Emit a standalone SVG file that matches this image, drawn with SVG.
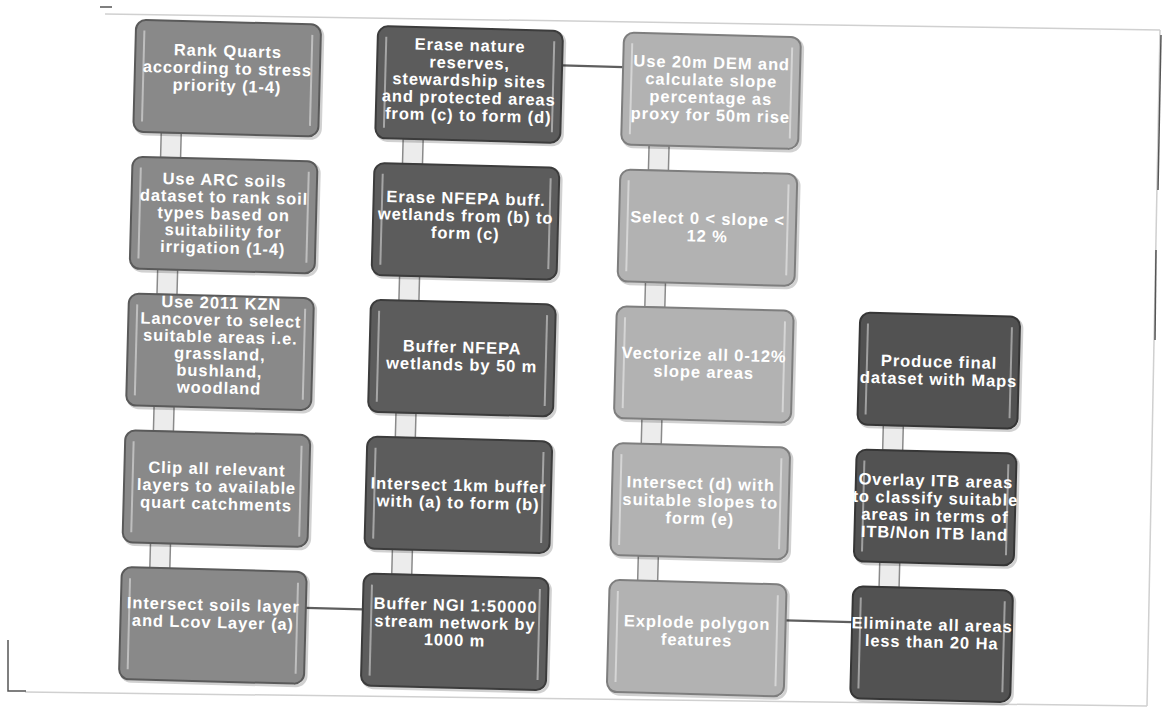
<svg xmlns="http://www.w3.org/2000/svg" width="1164" height="714" viewBox="0 0 1164 714">
<defs>
<style>
.bx{stroke-width:2}
.c1{fill:#898989;stroke:#5a5a5a}
.c2{fill:#5c5c5c;stroke:#3c3c3c}
.c3{fill:#b2b2b2;stroke:#7e7e7e}
.c4{fill:#525252;stroke:#363636}
.hl{stroke:#ffffff;stroke-opacity:0.45;stroke-width:2;fill:none}
.sh{fill:none;stroke:#000;stroke-opacity:0.18;stroke-width:3}
text{font-family:"Liberation Sans",Arial,sans-serif;font-weight:bold;font-size:16.5px;fill:#ffffff;text-anchor:middle;letter-spacing:0.9px}
.vbar{fill:#ececec;stroke:#8a8a8a;stroke-width:1.5}
.hline{stroke:#5e5e5e;stroke-width:2.2;fill:none}
.frame{stroke:#d0d0d0;stroke-width:1.5;fill:none}
.mark{stroke:#555;stroke-width:1.5;fill:none}
</style>
</defs>
<rect width="1164" height="714" fill="#ffffff"/>
<g id="page-frame">
<line class="frame" x1="105" y1="14" x2="1160" y2="30"/>
<line class="frame" x1="1160" y1="30" x2="1147" y2="706"/>
<line class="frame" x1="25" y1="692" x2="1147" y2="706"/>
<line class="mark" x1="100" y1="7" x2="112" y2="7"/>
<polyline class="mark" points="8,640 8,691 26,691"/>
<line class="mark" x1="1161" y1="35" x2="1158" y2="190"/>
<line class="mark" x1="1156" y1="250" x2="1155" y2="340"/>
</g>
<g transform="rotate(1.5 580 357)">
<g id="connectors">
<rect class="vbar" x="155.5" y="143.5" width="20" height="25"/>
<rect class="vbar" x="155.5" y="280.4" width="20" height="25"/>
<rect class="vbar" x="155.5" y="417.2" width="20" height="25"/>
<rect class="vbar" x="155.5" y="554.1" width="20" height="25"/>
<rect class="vbar" x="397.5" y="143.5" width="20" height="25"/>
<rect class="vbar" x="397.5" y="280.4" width="20" height="25"/>
<rect class="vbar" x="397.5" y="417.2" width="20" height="25"/>
<rect class="vbar" x="397.5" y="554.1" width="20" height="25"/>
<rect class="vbar" x="643.5" y="143.5" width="20" height="25"/>
<rect class="vbar" x="643.5" y="280.4" width="20" height="25"/>
<rect class="vbar" x="643.5" y="417.2" width="20" height="25"/>
<rect class="vbar" x="643.5" y="554.1" width="20" height="25"/>
<rect class="vbar" x="885" y="417.2" width="20" height="25"/>
<rect class="vbar" x="885" y="554.1" width="20" height="25"/>
<line class="hline" x1="312.5" y1="615" x2="369.5" y2="615"/>
<line class="hline" x1="554.5" y1="66" x2="615.5" y2="66"/>
<line class="hline" x1="792.5" y1="615" x2="859" y2="615"/>
</g>

<g id="n-c1r1">
<rect class="sh" x="129.5" y="33.5" width="185" height="112" rx="10"/>
<rect class="bx c1" x="127.5" y="31.5" width="185" height="112" rx="10"/>
<line class="hl" x1="136" y1="42" x2="136" y2="133"/><line class="hl" x1="304" y1="42" x2="304" y2="133"/>
<text x="220" y="66">Rank Quarts</text><text x="220" y="83.5">according to stress</text><text x="220" y="101">priority  (1-4)</text>
</g>
<g id="n-c1r2">
<rect class="sh" x="129.5" y="170.4" width="185" height="112" rx="10"/>
<rect class="bx c1" x="127.5" y="168.4" width="185" height="112" rx="10"/>
<line class="hl" x1="136" y1="179" x2="136" y2="270"/><line class="hl" x1="304" y1="179" x2="304" y2="270"/>
<text x="220" y="195">Use ARC soils</text><text x="220" y="212">dataset to rank soil</text><text x="220" y="229">types based on</text><text x="220" y="246">suitability  for</text><text x="220" y="263">irrigation  (1-4)</text>
</g>
<g id="n-c1r3">
<rect class="sh" x="129.5" y="307.2" width="185" height="112" rx="10"/>
<rect class="bx c1" x="127.5" y="305.2" width="185" height="112" rx="10"/>
<line class="hl" x1="136" y1="316" x2="136" y2="407"/><line class="hl" x1="304" y1="316" x2="304" y2="407"/>
<text x="220" y="318">Use 2011 KZN</text><text x="220" y="335">Lancover to select</text><text x="220" y="352">suitable  areas i.e.</text><text x="220" y="369">grassland,</text><text x="220" y="386">bushland,</text><text x="220" y="403">woodland</text>
</g>
<g id="n-c1r4">
<rect class="sh" x="129.5" y="444.1" width="185" height="112" rx="10"/>
<rect class="bx c1" x="127.5" y="442.1" width="185" height="112" rx="10"/>
<line class="hl" x1="136" y1="453" x2="136" y2="544"/><line class="hl" x1="304" y1="453" x2="304" y2="544"/>
<text x="220" y="484">Clip all relevant</text><text x="220" y="501.5">layers to available</text><text x="220" y="519">quart catchments</text>
</g>
<g id="n-c1r5">
<rect class="sh" x="129.5" y="581" width="185" height="112" rx="10"/>
<rect class="bx c1" x="127.5" y="579" width="185" height="112" rx="10"/>
<line class="hl" x1="136" y1="590" x2="136" y2="681"/><line class="hl" x1="304" y1="590" x2="304" y2="681"/>
<text x="220" y="620">Intersect soils layer</text><text x="220" y="637.5">and Lcov Layer (a)</text>
</g>

<g id="n-c2r1">
<rect class="sh" x="371.5" y="33.5" width="185" height="112" rx="10"/>
<rect class="bx c2" x="369.5" y="31.5" width="185" height="112" rx="10"/>
<line class="hl" x1="378" y1="42" x2="378" y2="133"/><line class="hl" x1="546" y1="42" x2="546" y2="133"/>
<text x="462" y="54">Erase nature</text><text x="462" y="71.5">reserves,</text><text x="462" y="89">stewardship sites</text><text x="462" y="106.5">and protected areas</text><text x="462" y="124">from (c) to form (d)</text>
</g>
<g id="n-c2r2">
<rect class="sh" x="371.5" y="170.4" width="185" height="112" rx="10"/>
<rect class="bx c2" x="369.5" y="168.4" width="185" height="112" rx="10"/>
<line class="hl" x1="378" y1="179" x2="378" y2="270"/><line class="hl" x1="546" y1="179" x2="546" y2="270"/>
<text x="462" y="207">Erase NFEPA buff.</text><text x="462" y="224.5">wetlands from (b) to</text><text x="462" y="242">form (c)</text>
</g>
<g id="n-c2r3">
<rect class="sh" x="371.5" y="307.2" width="185" height="112" rx="10"/>
<rect class="bx c2" x="369.5" y="305.2" width="185" height="112" rx="10"/>
<line class="hl" x1="378" y1="316" x2="378" y2="407"/><line class="hl" x1="546" y1="316" x2="546" y2="407"/>
<text x="462" y="356">Buffer NFEPA</text><text x="462" y="373.5">wetlands by 50 m</text>
</g>
<g id="n-c2r4">
<rect class="sh" x="371.5" y="444.1" width="185" height="112" rx="10"/>
<rect class="bx c2" x="369.5" y="442.1" width="185" height="112" rx="10"/>
<line class="hl" x1="378" y1="453" x2="378" y2="544"/><line class="hl" x1="546" y1="453" x2="546" y2="544"/>
<text x="462" y="494">Intersect 1km buffer</text><text x="462" y="511.5">with (a) to form (b)</text>
</g>
<g id="n-c2r5">
<rect class="sh" x="371.5" y="581" width="185" height="112" rx="10"/>
<rect class="bx c2" x="369.5" y="579" width="185" height="112" rx="10"/>
<line class="hl" x1="378" y1="590" x2="378" y2="681"/><line class="hl" x1="546" y1="590" x2="546" y2="681"/>
<text x="462" y="614">Buffer NGI 1:50000</text><text x="462" y="631.5">stream network by</text><text x="462" y="649">1000 m</text>
</g>

<g id="n-c3r1">
<rect class="sh" x="617.5" y="33.5" width="177" height="112" rx="10"/>
<rect class="bx c3" x="615.5" y="31.5" width="177" height="112" rx="10"/>
<line class="hl" x1="624" y1="42" x2="624" y2="133"/><line class="hl" x1="784" y1="42" x2="784" y2="133"/>
<text x="704" y="65">Use 20m DEM and</text><text x="704" y="82.5">calculate  slope</text><text x="704" y="100">percentage  as</text><text x="704" y="117.5">proxy  for 50m rise</text>
</g>
<g id="n-c3r2">
<rect class="sh" x="617.5" y="170.4" width="177" height="112" rx="10"/>
<rect class="bx c3" x="615.5" y="168.4" width="177" height="112" rx="10"/>
<line class="hl" x1="624" y1="179" x2="624" y2="270"/><line class="hl" x1="784" y1="179" x2="784" y2="270"/>
<text x="704" y="221">Select 0 &lt; slope &lt;</text><text x="704" y="238.5">12 %</text>
</g>
<g id="n-c3r3">
<rect class="sh" x="617.5" y="307.2" width="177" height="112" rx="10"/>
<rect class="bx c3" x="615.5" y="305.2" width="177" height="112" rx="10"/>
<line class="hl" x1="624" y1="316" x2="624" y2="407"/><line class="hl" x1="784" y1="316" x2="784" y2="407"/>
<text x="704" y="357">Vectorize  all 0-12%</text><text x="704" y="374.5">slope areas</text>
</g>
<g id="n-c3r4">
<rect class="sh" x="617.5" y="444.1" width="177" height="112" rx="10"/>
<rect class="bx c3" x="615.5" y="442.1" width="177" height="112" rx="10"/>
<line class="hl" x1="624" y1="453" x2="624" y2="544"/><line class="hl" x1="784" y1="453" x2="784" y2="544"/>
<text x="704" y="486">Intersect (d) with</text><text x="704" y="503.5">suitable slopes to</text><text x="704" y="521">form (e)</text>
</g>
<g id="n-c3r5">
<rect class="sh" x="617.5" y="581" width="177" height="112" rx="10"/>
<rect class="bx c3" x="615.5" y="579" width="177" height="112" rx="10"/>
<line class="hl" x1="624" y1="590" x2="624" y2="681"/><line class="hl" x1="784" y1="590" x2="784" y2="681"/>
<text x="704" y="625">Explode polygon</text><text x="704" y="642.5">features</text>
</g>

<g id="n-c4r3">
<rect class="sh" x="861" y="307.2" width="160" height="112" rx="10"/>
<rect class="bx c4" x="859" y="305.2" width="160" height="112" rx="10"/>
<line class="hl" x1="867" y1="316" x2="867" y2="407"/><line class="hl" x1="1011" y1="316" x2="1011" y2="407"/>
<text x="939" y="358">Produce final</text><text x="939" y="375.5">dataset with Maps</text>
</g>
<g id="n-c4r4">
<rect class="sh" x="861" y="444.1" width="160" height="112" rx="10"/>
<rect class="bx c4" x="859" y="442.1" width="160" height="112" rx="10"/>
<line class="hl" x1="867" y1="453" x2="867" y2="544"/><line class="hl" x1="1011" y1="453" x2="1011" y2="544"/>
<text x="939" y="477">Overlay ITB areas</text><text x="939" y="494.5">to classify suitable</text><text x="939" y="512">areas in terms of</text><text x="939" y="529.5">ITB/Non ITB land</text>
</g>
<g id="n-c4r5">
<rect class="sh" x="861" y="581" width="160" height="112" rx="10"/>
<rect class="bx c4" x="859" y="579" width="160" height="112" rx="10"/>
<line class="hl" x1="867" y1="590" x2="867" y2="681"/><line class="hl" x1="1011" y1="590" x2="1011" y2="681"/>
<text x="939" y="621">Eliminate all areas</text><text x="939" y="638.5">less than 20 Ha</text>
</g>
</g>
</svg>
